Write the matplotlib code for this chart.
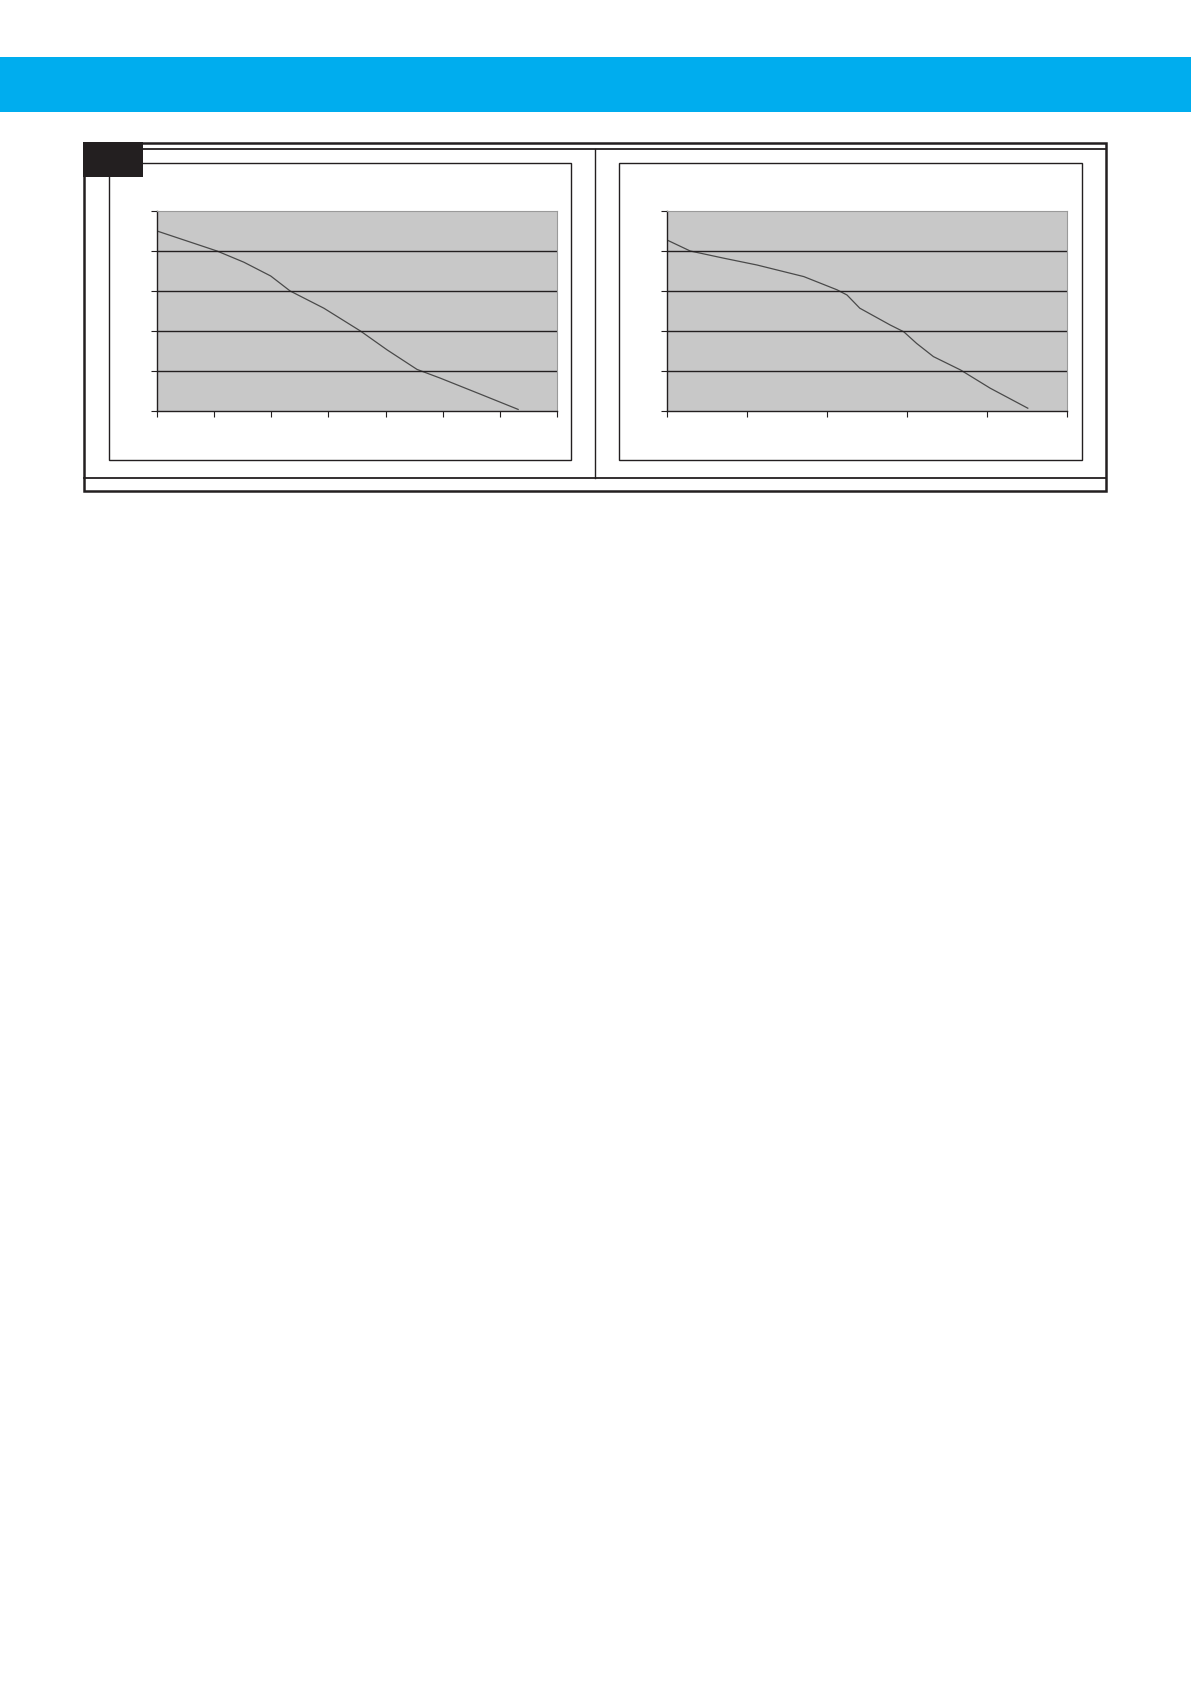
import matplotlib
matplotlib.use("Agg")
import matplotlib.pyplot as plt
from matplotlib.patches import Rectangle

# Kurvenwerte (Gitterraster = 1 Einheit)
left_x = [0, 1.05, 1.52, 1.99, 2.33, 2.92, 3.56, 4.03, 4.55, 4.96, 5.66, 6.32]
left_y = [4.5, 4.0, 3.72, 3.375, 3.0, 2.57, 2.0, 1.525, 1.04, 0.82, 0.42, 0.04]

right_x = [0, 0.29, 0.71, 1.125, 1.71, 2.125, 2.25, 2.41, 2.79, 2.96, 3.12, 3.33, 3.67, 4.04, 4.51]
right_y = [4.275, 4.0, 3.82, 3.65, 3.36, 3.03, 2.9, 2.57, 2.15, 1.98, 1.69, 1.36, 1.025, 0.57, 0.07]

left_xmax, right_xmax, ymax = 7, 5, 5

W, H = 1191, 1684
DARK = "#231f20"
fig = plt.figure(figsize=(W / 100, H / 100), dpi=100)

# Hintergrund-Achse in Pixelkoordinaten fuer Balken und Rahmen
bg = fig.add_axes([0, 0, 1, 1], zorder=0)
bg.set_xlim(0, W)
bg.set_ylim(H, 0)
bg.axis("off")

bg.add_patch(Rectangle((0, 57), W, 55, color="#00adee", lw=0))

# aeusserer Rahmen
bg.add_patch(Rectangle((84, 143), 1022, 348, fill=False, ec=DARK, lw=1.8))
bg.plot([143, 1106], [149, 149], color=DARK, lw=1.3)
bg.plot([84, 1106], [478, 478], color=DARK, lw=1.3)
bg.plot([595, 595], [149, 478], color=DARK, lw=1.0)
bg.add_patch(Rectangle((83, 142), 60, 35, color=DARK, lw=0))

# Diagrammkaesten
bg.add_patch(Rectangle((109, 163), 462, 297, fill=False, ec=DARK, lw=1.0))
bg.add_patch(Rectangle((619, 163), 463, 297, fill=False, ec=DARK, lw=1.0))


def px_axes(x0, y0, x1, y1):
    return fig.add_axes([x0 / W, 1 - y1 / H, (x1 - x0) / W, (y1 - y0) / H], zorder=2)


def draw_chart(ax, xs, ys, xmax):
    ax.set_facecolor("#c8c8c8")
    ax.plot(xs, ys, color="#4a4a4a", lw=0.9)
    ax.set_xlim(0, xmax)
    ax.set_ylim(0, ymax)
    ax.set_xticks(range(xmax + 1))
    ax.set_yticks(range(ymax + 1))
    ax.set_xticklabels([])
    ax.set_yticklabels([])
    ax.tick_params(axis="x", direction="out", length=4, width=0.8, color=DARK)
    ax.tick_params(axis="y", direction="out", length=4, width=0.8, color=DARK)
    for y in range(1, ymax):
        ax.axhline(y, color=DARK, lw=1.0)
    ax.spines["left"].set_color(DARK)
    ax.spines["bottom"].set_color(DARK)
    ax.spines["left"].set_linewidth(1.0)
    ax.spines["bottom"].set_linewidth(1.0)
    ax.spines["top"].set_color("#9a9a9a")
    ax.spines["right"].set_color("#9a9a9a")
    ax.spines["top"].set_linewidth(0.8)
    ax.spines["right"].set_linewidth(0.8)


ax1 = px_axes(157, 211, 557, 411)
draw_chart(ax1, left_x, left_y, left_xmax)

ax2 = px_axes(667, 211, 1067, 411)
draw_chart(ax2, right_x, right_y, right_xmax)

fig.savefig("out.png", dpi=100)
